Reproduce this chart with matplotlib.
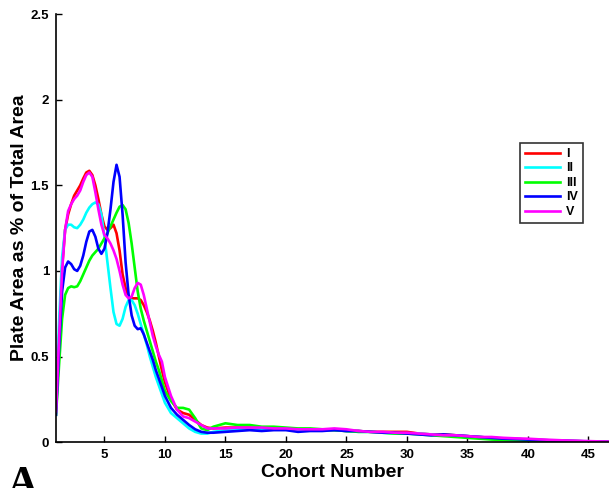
import numpy as np
import matplotlib
matplotlib.use('Agg')
import matplotlib.pyplot as plt

# cohort sample positions: fine steps over the peak, coarser in the tail
cohort = np.concatenate([np.arange(1, 10.01, 0.25),
                         np.arange(10.5, 14.01, 0.5),
                         np.arange(15, 47.01, 1)])

plate_I = [0.2, 0.6, 1.02, 1.24, 1.33, 1.39, 1.44, 1.47, 1.5, 1.54, 1.575, 1.585,
           1.56, 1.5, 1.42, 1.33, 1.26, 1.24, 1.25, 1.27, 1.22, 1.12, 0.98, 0.9,
           0.85, 0.84, 0.84, 0.84, 0.83, 0.8, 0.76, 0.71, 0.65, 0.58, 0.5, 0.42, 0.35,
           0.25, 0.19, 0.17, 0.16, 0.13, 0.1, 0.085, 0.08,
           0.085, 0.085, 0.085, 0.08, 0.08, 0.08, 0.075, 0.075, 0.07, 0.07,
           0.065, 0.065, 0.06, 0.06, 0.06, 0.06, 0.05, 0.045, 0.045, 0.04,
           0.035, 0.03, 0.025, 0.02, 0.018, 0.015, 0.012, 0.01, 0.008, 0.006, 0.004, 0.003, 0.002]

plate_II = [0.2, 0.7, 1.08, 1.24, 1.27, 1.27, 1.255, 1.25, 1.27, 1.3, 1.34, 1.37,
            1.39, 1.4, 1.39, 1.33, 1.2, 1.05, 0.9, 0.76, 0.69, 0.68, 0.72, 0.79,
            0.83, 0.83, 0.8, 0.75, 0.69, 0.63, 0.57, 0.5, 0.44, 0.38, 0.33, 0.28, 0.23,
            0.17, 0.14, 0.11, 0.08, 0.06, 0.05, 0.05, 0.06,
            0.07, 0.075, 0.075, 0.075, 0.075, 0.075, 0.07, 0.07, 0.07, 0.07,
            0.065, 0.06, 0.06, 0.055, 0.05, 0.05, 0.05, 0.045, 0.04, 0.04,
            0.035, 0.03, 0.025, 0.02, 0.018, 0.015, 0.012, 0.01, 0.008, 0.006, 0.005, 0.003, 0.002]

plate_III = [0.16, 0.45, 0.72, 0.86, 0.9, 0.91, 0.905, 0.91, 0.94, 0.98, 1.02, 1.06,
             1.09, 1.11, 1.13, 1.16, 1.19, 1.22, 1.26, 1.3, 1.34, 1.375, 1.385, 1.36,
             1.28, 1.16, 1.02, 0.88, 0.78, 0.71, 0.65, 0.59, 0.53, 0.47, 0.42, 0.36, 0.3,
             0.24, 0.2, 0.2, 0.19, 0.14, 0.08, 0.07, 0.09,
             0.11, 0.1, 0.1, 0.09, 0.09, 0.085, 0.08, 0.08, 0.075, 0.07,
             0.065, 0.06, 0.06, 0.055, 0.05, 0.05, 0.045, 0.04, 0.035, 0.03,
             0.025, 0.02, 0.015, 0.012, 0.01, 0.008, 0.006, 0.004, 0.003, 0.002, 0.001, 0.0, 0.0]

plate_IV = [0.16, 0.55, 0.88, 1.02, 1.055, 1.04, 1.01, 1.0, 1.03, 1.09, 1.17, 1.23,
            1.24, 1.2, 1.13, 1.1, 1.13, 1.22, 1.36, 1.52, 1.62, 1.55, 1.33, 1.05,
            0.86, 0.74, 0.68, 0.66, 0.665, 0.63, 0.58, 0.53, 0.48, 0.42, 0.37, 0.32, 0.27,
            0.2, 0.16, 0.13, 0.1, 0.075, 0.06, 0.055, 0.055,
            0.06, 0.065, 0.07, 0.065, 0.07, 0.07, 0.06, 0.065, 0.065, 0.07,
            0.065, 0.065, 0.06, 0.055, 0.055, 0.05, 0.045, 0.04, 0.045, 0.04,
            0.035, 0.03, 0.025, 0.02, 0.018, 0.015, 0.012, 0.01, 0.008, 0.006, 0.004, 0.002, 0.001]

plate_V = [0.18, 0.6, 1.0, 1.24, 1.35, 1.39, 1.42, 1.44, 1.47, 1.52, 1.56, 1.575,
           1.55, 1.46, 1.36, 1.27, 1.21, 1.19, 1.16, 1.12, 1.07, 1.0, 0.92, 0.86,
           0.84, 0.85, 0.9, 0.93, 0.92, 0.86, 0.78, 0.7, 0.62, 0.56, 0.51, 0.47, 0.38,
           0.27, 0.19, 0.15, 0.14, 0.12, 0.1, 0.08, 0.08,
           0.08, 0.085, 0.085, 0.085, 0.08, 0.08, 0.075, 0.075, 0.075, 0.08,
           0.075, 0.065, 0.06, 0.06, 0.055, 0.055, 0.05, 0.045, 0.04, 0.04,
           0.035, 0.03, 0.03, 0.025, 0.022, 0.02, 0.016, 0.013, 0.01, 0.008, 0.006, 0.004, 0.003]

labels = ['I', 'II', 'III', 'IV', 'V']
colors = ['#ff0000', '#00ffff', '#00ff00', '#0000ff', '#ff00ff']
series = [plate_I, plate_II, plate_III, plate_IV, plate_V]

plt.rcParams['font.family'] = 'Liberation Sans'
plt.rcParams['font.weight'] = 'bold'

fig = plt.figure(figsize=(6.09, 4.88), dpi=100)
ax = fig.add_axes([0.092, 0.094, 0.908, 0.877])

for vals, c, lab in zip(series, colors, labels):
    ax.plot(cohort, vals, color=c, lw=1.9, label=lab, solid_joinstyle='round')

ax.set_xlim(1, 46.7)
ax.set_ylim(0, 2.5)
ax.set_xticks([5, 10, 15, 20, 25, 30, 35, 40, 45])
ax.set_yticks([0, 0.5, 1, 1.5, 2, 2.5])
ax.set_yticklabels(['0', '0.5', '1', '1.5', '2', '2.5'])
ax.tick_params(direction='in', length=4, width=1, labelsize=9.5, pad=5)
for t in ax.get_xticklabels() + ax.get_yticklabels():
    t.set_fontweight('bold')

ax.spines['top'].set_visible(False)
ax.spines['right'].set_visible(False)
ax.spines['left'].set_linewidth(1.2)
ax.spines['bottom'].set_linewidth(1.2)

ax.set_xlabel('Cohort Number', fontsize=14, fontweight='bold', labelpad=2)
ax.set_ylabel('Plate Area as % of Total Area', fontsize=14, fontweight='bold')
ax.yaxis.set_label_coords(-0.05, 0.5)

leg = ax.legend(loc='upper left', bbox_to_anchor=(0.854, 0.707), bbox_transform=fig.transFigure,
                frameon=True, fancybox=False, edgecolor='black', fontsize=9,
                handlelength=2.8, handletextpad=0.5, labelspacing=0.2,
                borderpad=0.4, borderaxespad=0)
leg.get_frame().set_linewidth(1.2)
for t in leg.get_texts():
    t.set_fontweight('bold')

fig.text(0.012, -0.015, 'A', fontsize=30, fontweight='bold',
         family='Liberation Serif', va='baseline', ha='left')

fig.savefig('out.png', dpi=100)
